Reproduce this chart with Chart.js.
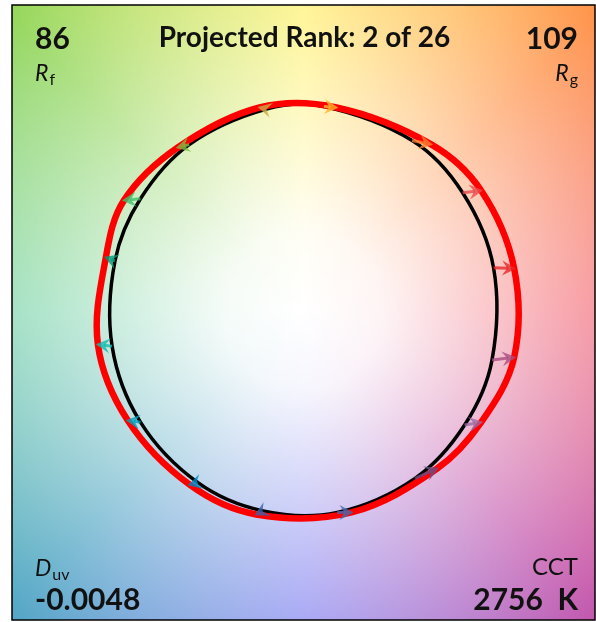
<!DOCTYPE html>
<html>
<head>
<meta charset="utf-8">
<script src="https://cdn.jsdelivr.net/npm/chart.js@4.4.1/dist/chart.umd.min.js"></script>
<style>
  html, body { margin: 0; padding: 0; background: #fff; }
  #wrap { width: 596px; height: 622px; }
</style>
</head>
<body>
<div id="wrap"><canvas id="cvg"></canvas></div>
<script>
// 16 hue bins, normalized chroma coordinates (a', b')
const refA  = [0.978, 0.819, 0.559, 0.105, -0.191, -0.588, -0.839, -0.970, -0.985, -0.839, -0.545, -0.208, 0.174, 0.574, 0.829, 0.970];
const refB  = [0.208, 0.574, 0.829, 0.995, 0.982, 0.809, 0.545, 0.242, -0.174, -0.545, -0.839, -0.978, -0.985, -0.819, -0.559, -0.242];
const testA = [1.084, 0.914, 0.657, 0.169, -0.226, -0.647, -0.924, -1.017, -1.058, -0.904, -0.586, -0.243, 0.247, 0.688, 0.914, 1.084];
const testB = [0.205, 0.585, 0.810, 0.990, 0.990, 0.795, 0.537, 0.259, -0.166, -0.537, -0.850, -0.995, -0.985, -0.771, -0.546, -0.229];
const binColors = ['#e62828', '#e74b4b', '#fb812e', '#ffb529', '#cba946', '#7ebb42', '#41c06d', '#009c7c',
                   '#16bcb0', '#00a4bf', '#0085c3', '#3b62aa', '#4568ae', '#6a4e85', '#9d69a1', '#a74f81'];

const Rf = 86, Rg = 109, Duv = '-0.0048', CCT = 2756;
const rankText = 'Projected Rank: 2 of 26';

// closed loop: pad with wrap points so the spline is smooth at the seam
function loop(a, b) {
  const n = a.length, pts = [];
  for (let i = -1; i <= n + 1; i++) {
    const k = (i + n) % n;
    pts.push({ x: a[k], y: b[k] });
  }
  return pts;
}
function seamColor(color, n) {
  return ctx => (ctx.p0DataIndex === 0 || ctx.p0DataIndex === n + 1) ? 'transparent' : color;
}

const huePlugin = {
  id: 'hueBackground',
  beforeDraw(chart) {
    const { ctx, chartArea: a, scales: { x, y } } = chart;
    const cx = x.getPixelForValue(0), cy = y.getPixelForValue(0);
    ctx.save();
    const g = ctx.createConicGradient(0, cx, cy);
    g.addColorStop(0.000, '#f2606e');
    g.addColorStop(0.125, '#c24fa8');
    g.addColorStop(0.250, '#7f7ff0');
    g.addColorStop(0.375, '#4aa3c2');
    g.addColorStop(0.500, '#6fd0a2');
    g.addColorStop(0.625, '#8dd452');
    g.addColorStop(0.750, '#fff060');
    g.addColorStop(0.875, '#ff8c40');
    g.addColorStop(1.000, '#f2606e');
    ctx.fillStyle = g;
    ctx.fillRect(a.left, a.top, a.width, a.height);
    const w = ctx.createRadialGradient(cx, cy, 0, cx, cy, 440);
    w.addColorStop(0, 'rgba(255,255,255,1)');
    w.addColorStop(0.18, 'rgba(255,255,255,0.93)');
    w.addColorStop(1, 'rgba(255,255,255,0)');
    ctx.fillStyle = w;
    ctx.fillRect(a.left, a.top, a.width, a.height);
    ctx.restore();
  }
};

const arrowPlugin = {
  id: 'binArrows',
  afterDatasetsDraw(chart) {
    const { ctx, scales: { x, y } } = chart;
    for (let i = 0; i < binColors.length; i++) {
      const x0 = x.getPixelForValue(refA[i]), y0 = y.getPixelForValue(refB[i]);
      const x1 = x.getPixelForValue(testA[i]), y1 = y.getPixelForValue(testB[i]);
      const ang = Math.atan2(y1 - y0, x1 - x0);
      const len = Math.hypot(x1 - x0, y1 - y0);
      ctx.save();
      ctx.globalAlpha = 0.8;
      ctx.strokeStyle = ctx.fillStyle = binColors[i];
      ctx.translate(x1, y1);
      ctx.rotate(ang);
      if (len > 8) {
        ctx.lineWidth = 3;
        ctx.beginPath();
        ctx.moveTo(-len, 0);
        ctx.lineTo(-6, 0);
        ctx.stroke();
      }
      ctx.beginPath();
      ctx.moveTo(2, 0);
      ctx.lineTo(-12, -7.5);
      ctx.lineTo(-7, 0);
      ctx.lineTo(-12, 7.5);
      ctx.closePath();
      ctx.fill();
      ctx.restore();
    }
  }
};

const labelPlugin = {
  id: 'cornerLabels',
  afterDraw(chart) {
    const { ctx, chartArea: a } = chart;
    const L = a.left + 23, R = a.right - 17;
    ctx.save();
    ctx.fillStyle = '#111';
    ctx.textBaseline = 'alphabetic';

    ctx.font = 'bold 30px Lato';
    ctx.textAlign = 'left';
    ctx.fillText(String(Rf), L, 49);
    ctx.fillText(Duv, L, 610);
    ctx.textAlign = 'right';
    ctx.fillText(String(Rg), R, 49);
    ctx.fillText(CCT + '  K', R, 610);

    ctx.font = 'bold 28px Lato';
    ctx.textAlign = 'center';
    ctx.fillText(rankText, (a.left + a.right) / 2 + 1, 47);

    // italic symbol with subscript
    function sym(main, sub, x, yb, align) {
      ctx.font = 'italic 23px Lato';
      const wm = ctx.measureText(main).width;
      ctx.font = '16px Lato';
      const ws = ctx.measureText(sub).width;
      const x0 = align === 'right' ? x - wm - ws - 1 : x;
      ctx.textAlign = 'left';
      ctx.font = 'italic 23px Lato';
      ctx.fillText(main, x0, yb);
      ctx.font = '16px Lato';
      ctx.fillText(sub, x0 + wm + 1, yb + 4);
    }
    sym('R', 'f', L, 81, 'left');
    sym('R', 'g', R, 81, 'right');
    sym('D', 'uv', L, 576, 'left');

    ctx.font = '24px Lato';
    ctx.textAlign = 'right';
    ctx.fillText('CCT', R, 575);

    ctx.strokeStyle = '#000';
    ctx.lineWidth = 1.5;
    ctx.strokeRect(a.left, a.top, a.width, a.height);
    ctx.restore();
  }
};

const n = refA.length;
new Chart(document.getElementById('cvg'), {
  type: 'scatter',
  data: {
    datasets: [
      {
        label: 'Test',
        data: loop(testA, testB),
        showLine: true,
        borderColor: '#ff0000',
        borderWidth: 6.5,
        borderCapStyle: 'round',
        tension: 0.35,
        pointRadius: 0,
        segment: { borderColor: seamColor('#ff0000', n) },
        order: 0
      },
      {
        label: 'Reference',
        data: loop(refA, refB),
        showLine: true,
        borderColor: '#000000',
        borderWidth: 3.5,
        borderCapStyle: 'round',
        tension: 0.35,
        pointRadius: 0,
        segment: { borderColor: seamColor('#000000', n) },
        order: 1
      }
    ]
  },
  options: {
    responsive: true,
    maintainAspectRatio: false,
    animation: false,
    layout: { padding: { left: 12, top: 5, right: 1, bottom: 2 } },
    scales: {
      x: { display: false, min: -1.5, max: 1.5 },
      y: { display: false, min: -1.51, max: 1.49 }
    },
    plugins: {
      legend: { display: false },
      tooltip: { enabled: false }
    }
  },
  plugins: [huePlugin, arrowPlugin, labelPlugin]
});
</script>
</body>
</html>
